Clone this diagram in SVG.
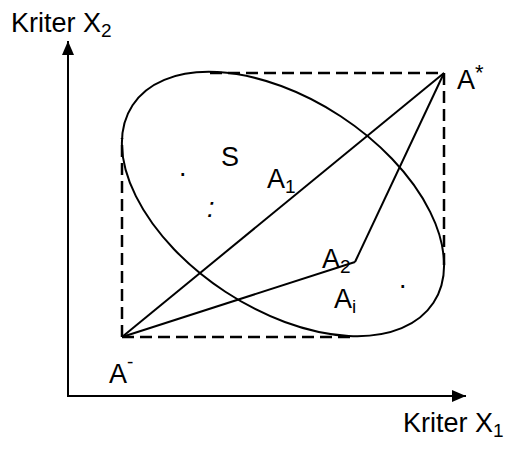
<svg xmlns="http://www.w3.org/2000/svg" width="517" height="450" viewBox="0 0 517 450">
<defs>
<style>
.t{font-family:"Liberation Sans",Arial,sans-serif;font-size:27px;fill:#000}
.sub{font-size:19px}
.ln{stroke:#000;stroke-width:2;fill:none}
.dash{stroke:#000;stroke-width:2.5;fill:none;stroke-dasharray:12 6}
</style>
<marker id="ah" viewBox="0 0 14 12" refX="14" refY="6" markerWidth="14" markerHeight="12" markerUnits="userSpaceOnUse" orient="auto">
<path d="M0,0 L14,6 L0,12 Z" fill="#000"/>
</marker>
</defs>
<rect width="517" height="450" fill="#fff"/>
<g id="axes">
<line class="ln" x1="68" y1="396" x2="68" y2="41" marker-end="url(#ah)"/>
<line class="ln" x1="67" y1="396" x2="466" y2="396" marker-end="url(#ah)"/>
<text class="t" x="11" y="32">Kriter X<tspan class="sub" dy="5">2</tspan></text>
<text class="t" x="403" y="432">Kriter X<tspan class="sub" dy="5">1</tspan></text>
</g>
<g id="box">
<polyline class="dash" points="122,337 122,138"/>
<polyline class="dash" points="122,337 350,337"/>
<polyline class="dash" points="210,73 444,73 444,270"/>
</g>
<g id="set-S">
<ellipse class="ln" cx="283" cy="204" rx="180" ry="105" transform="rotate(33.3 283 204)"/>
<text class="t" x="221" y="166">S</text>
<text class="t" x="179" y="176">.</text>
<text class="t" x="207" y="217" font-style="italic">:</text>
<text class="t" x="399" y="288">.</text>
</g>
<g id="connectors">
<line class="ln" x1="122" y1="337" x2="444" y2="73"/>
<line class="ln" x1="122" y1="337" x2="355" y2="262"/>
<line class="ln" x1="355" y1="262" x2="444" y2="73"/>
</g>
<g id="A-star"><text class="t" x="457" y="89">A<tspan dy="-9" font-size="22">*</tspan></text></g>
<g id="A-minus"><text class="t" x="109" y="383">A<tspan dy="-15" font-size="19">-</tspan></text></g>
<g id="A1"><text class="t" x="267" y="188">A<tspan class="sub" dy="5">1</tspan></text></g>
<g id="A2"><text class="t" x="322" y="268">A<tspan class="sub" dy="5">2</tspan></text></g>
<g id="Ai"><text class="t" x="334" y="308">A<tspan class="sub" dy="5">i</tspan></text></g>
</svg>
